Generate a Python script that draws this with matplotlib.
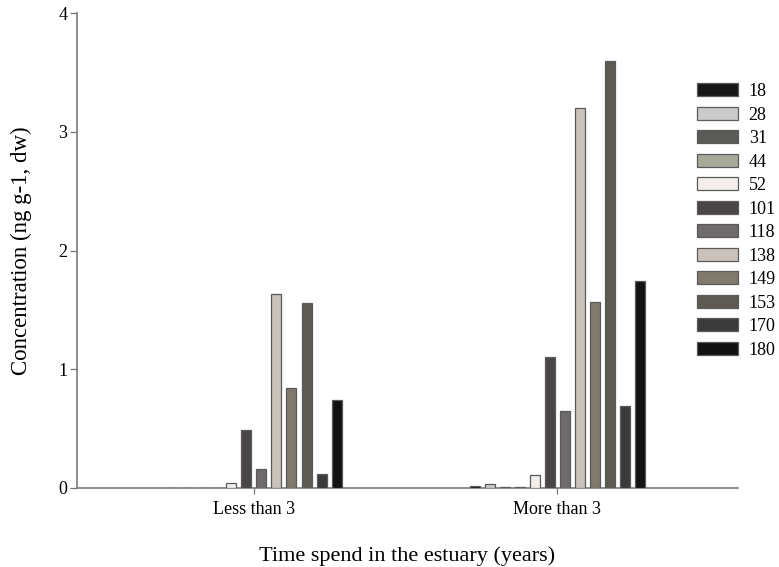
import matplotlib
matplotlib.use("Agg")
import matplotlib.pyplot as plt
import numpy as np
from matplotlib.patches import Patch

plt.rcParams['font.family'] = ['Liberation Serif', 'DejaVu Serif']

groups = ["Less than 3", "More than 3"]
congeners = ["18", "28", "31", "44", "52", "101", "118", "138", "149", "153", "170", "180"]
less_than_3 = [0.0, 0.0, 0.0, 0.0, 0.04, 0.49, 0.16, 1.63, 0.84, 1.56, 0.12, 0.74]
more_than_3 = [0.02, 0.03, 0.01, 0.01, 0.11, 1.10, 0.65, 3.20, 1.57, 3.60, 0.69, 1.74]
colors = ["#161616", "#cbcbcb", "#5a5a56", "#a9a99a", "#f3eee9", "#4a4646",
          "#6f6b6b", "#c9c1ba", "#817a6c", "#5e5a53", "#3a3a3a", "#121212"]
y_ticks = [0, 1, 2, 3, 4]

fig = plt.figure(figsize=(7.79, 5.67), dpi=100)
ax = fig.add_axes([77 / 779, 79 / 567, 661 / 779, 475 / 567])

step = 0.0495
width = 0.033
x = np.arange(len(groups))
values = np.array([less_than_3, more_than_3])
n = len(congeners)
for i, (name, col) in enumerate(zip(congeners, colors)):
    offs = (i - (n - 1) / 2) * step
    ax.bar(x + offs, values[:, i], width=width, color=col,
           edgecolor="#5a5a5a", linewidth=0.9, zorder=3)

ax.set_xlim(-0.584, 1.597)
ax.set_ylim(0, 4)
ax.set_yticks(y_ticks)
ax.set_yticklabels([str(t) for t in y_ticks], fontsize=13)
ax.set_xticks(x)
ax.set_xticklabels(groups, fontsize=13)
ax.tick_params(axis='y', length=5, width=0.9, color="#777777", pad=2)
ax.tick_params(axis='x', length=4, width=0.9, color="#777777", pad=5)

for s in ["top", "right"]:
    ax.spines[s].set_visible(False)
for s in ["left", "bottom"]:
    ax.spines[s].set_color("#7a7a7a")
    ax.spines[s].set_linewidth(1.2)

ax.set_ylabel("Concentration (ng g-1, dw)", fontsize=16.5, labelpad=19)
ax.set_xlabel("Time spend in the estuary (years)", fontsize=16, labelpad=21)

handles = [Patch(facecolor=c, edgecolor="#5a5a5a", linewidth=0.9) for c in colors]
fig.legend(handles, congeners, loc="upper left", bbox_to_anchor=(690 / 779, 1 - 76 / 567),
           frameon=False, fontsize=13, handlelength=2.25, handleheight=0.72,
           labelspacing=0.36, handletextpad=0.6, borderaxespad=0)

fig.savefig("out.png", dpi=100, facecolor="white")
